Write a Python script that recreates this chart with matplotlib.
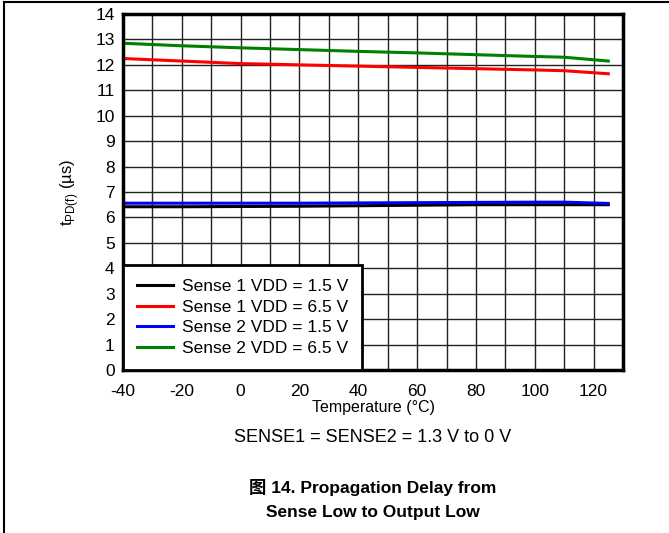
import matplotlib.pyplot as plt
from matplotlib.lines import Line2D

plt.rcParams['font.family'] = ['Liberation Sans', 'Noto Sans CJK SC', 'DejaVu Sans']
plt.rcParams['axes.unicode_minus'] = False

# Temperature points (°C) and propagation delay (µs)
temp = [-40, -20, 0, 20, 40, 60, 80, 100, 110, 125]
s1_vdd15 = [6.42, 6.42, 6.43, 6.44, 6.46, 6.48, 6.5, 6.5, 6.5, 6.5]
s1_vdd65 = [12.25, 12.15, 12.05, 12.0, 11.95, 11.9, 11.85, 11.8, 11.77, 11.65]
s2_vdd15 = [6.56, 6.56, 6.56, 6.56, 6.57, 6.58, 6.59, 6.6, 6.6, 6.55]
s2_vdd65 = [12.85, 12.75, 12.67, 12.6, 12.53, 12.47, 12.4, 12.33, 12.3, 12.15]

labels = ["Sense 1 VDD = 1.5 V", "Sense 1 VDD = 6.5 V",
          "Sense 2 VDD = 1.5 V", "Sense 2 VDD = 6.5 V"]
colors = ["black", "red", "blue", "green"]

fig = plt.figure(figsize=(6.69, 5.33), dpi=100)
ax = fig.add_axes([123 / 669, 1 - 370 / 533, 500 / 669, 356 / 533])

for y, lab, c in zip([s1_vdd15, s1_vdd65, s2_vdd15, s2_vdd65], labels, colors):
    ax.plot(temp, y, color=c, linewidth=2.2, label=lab)

ax.set_xlim(-40, 130)
ax.set_ylim(0, 14)
ax.set_xticks(range(-40, 121, 20))
ax.set_xticks(range(-40, 131, 10), minor=True)
ax.set_yticks(range(0, 15))
ax.grid(True, which='both', color='#222222', linewidth=1.0)
ax.set_axisbelow(True)
ax.tick_params(which='both', length=0, labelsize=12.5)
ax.tick_params(axis='x', pad=10)
ax.tick_params(axis='y', pad=6)
for s in ax.spines.values():
    s.set_linewidth(2.5)

ax.set_xlabel("Temperature (°C)", fontsize=11.5, labelpad=1)
ax.set_ylabel(r"t$_{\mathregular{PD(f)}}$ (µs)", fontsize=12, labelpad=10)

leg = ax.legend(loc='lower left', fontsize=12.5, frameon=True, fancybox=False,
                framealpha=1, borderaxespad=0, handlelength=2.1, handletextpad=0.5,
                labelspacing=0.32, borderpad=0.8)
leg.get_frame().set_edgecolor('black')
leg.get_frame().set_facecolor('white')
leg.get_frame().set_linewidth(2)

xc = 0.5 * (123 + 623) / 669
fig.text(xc, 1 - 437 / 533, "SENSE1 = SENSE2 = 1.3 V to 0 V",
         ha='center', va='center', fontsize=13)
fig.text(xc, 1 - 487 / 533, "图 14. Propagation Delay from",
         ha='center', va='center', fontsize=12.5, fontweight='bold')
fig.text(xc, 1 - 513 / 533, "Sense Low to Output Low",
         ha='center', va='center', fontsize=12.5, fontweight='bold')

# page border (top and left)
fig.add_artist(Line2D([4 / 669, 1], [1 - 1.5 / 533, 1 - 1.5 / 533], color='black', linewidth=1.5))
fig.add_artist(Line2D([4 / 669, 4 / 669], [0, 1 - 1.5 / 533], color='black', linewidth=1.5))

fig.savefig("out.png", dpi=100)
